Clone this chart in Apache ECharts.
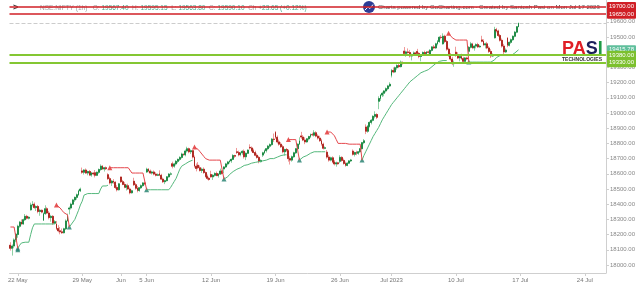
<!DOCTYPE html>
<html><head><meta charset="utf-8">
<script src="https://cdn.jsdelivr.net/npm/echarts@6/dist/echarts.min.js"></script>
<style>html,body{margin:0;padding:0;background:#fff}#c{width:638px;height:288px}</style>
</head><body><div id="c"></div>
<script>
// ---------- DATA ----------
const sessionHours = ['09:15','10:15','11:15','12:15','13:15','14:15','15:15'];
const firstDayHours = ['12:15','13:15','14:15','15:15'];
const tradingDays = ['19 May','22 May','23 May','24 May','25 May','26 May','29 May','30 May','31 May','1 Jun','2 Jun',
  '5 Jun','6 Jun','7 Jun','8 Jun','9 Jun','12 Jun','13 Jun','14 Jun','15 Jun','16 Jun','19 Jun','20 Jun','21 Jun','22 Jun','23 Jun',
  '26 Jun','27 Jun','28 Jun','30 Jun','3 Jul','4 Jul','5 Jul','6 Jul','7 Jul','10 Jul','11 Jul','12 Jul','13 Jul','14 Jul'];
const futureDays = ['17 Jul','18 Jul','19 Jul','20 Jul','21 Jul','24 Jul','25 Jul'];
const xTickLabels = [['22 May','22 May'],['29 May','29 May'],['1 Jun','Jun'],['5 Jun','5 Jun'],['12 Jun','12 Jun'],
  ['19 Jun','19 Jun'],['26 Jun','26 Jun'],['3 Jul','Jul 2023'],['10 Jul','10 Jul'],['17 Jul','17 Jul'],['24 Jul','24 Jul']];
const yTickValues = [18000,18100,18200,18300,18400,18500,18600,18700,18800,18900,19000,19100,19200,19300,19400,19500,19600];

// hourly candles: [open, high, low, close]
const ohlc = [
// 19 May (last hours)
[18130,18150,18095,18110],[18110,18135,18062,18125],[18125,18175,18110,18165],[18165,18210,18150,18203],
// 22 May
[18201,18265,18179,18255],[18255,18290,18245,18282],[18282,18300,18262,18270],[18270,18305,18265,18298],[18298,18335,18290,18320],[18320,18330,18300,18308],[18308,18320,18300,18314],
// 23 May
[18363,18410,18358,18395],[18395,18420,18385,18400],[18400,18412,18370,18378],[18378,18392,18355,18385],[18385,18395,18340,18352],[18352,18370,18324,18360],[18360,18365,18340,18348],
// 24 May
[18294,18345,18290,18338],[18338,18393,18330,18370],[18370,18380,18335,18342],[18342,18355,18300,18312],[18312,18330,18285,18320],[18320,18328,18263,18275],[18275,18295,18268,18285],
// 25 May
[18269,18290,18230,18240],[18240,18262,18215,18225],[18225,18250,18202,18218],[18218,18240,18205,18212],[18212,18245,18208,18238],[18238,18300,18230,18290],[18290,18338,18285,18321],
// 26 May
[18368,18385,18333,18375],[18375,18410,18365,18400],[18400,18435,18395,18428],[18428,18450,18415,18445],[18445,18470,18430,18462],[18462,18495,18455,18488],[18488,18509,18480,18499],
// 29 May
[18619,18641,18600,18610],[18610,18630,18595,18625],[18625,18635,18600,18605],[18605,18620,18590,18615],[18615,18625,18585,18592],[18592,18612,18581,18605],[18605,18610,18590,18599],
// 30 May
[18607,18625,18576,18590],[18590,18615,18585,18610],[18610,18635,18600,18628],[18628,18662,18620,18650],[18650,18658,18625,18632],[18632,18645,18615,18640],[18640,18648,18625,18634],
// 31 May
[18594,18604,18560,18568],[18568,18580,18530,18540],[18540,18560,18520,18552],[18552,18565,18535,18545],[18545,18550,18500,18510],[18510,18525,18484,18495],[18495,18540,18490,18534],
// 1 Jun
[18579,18580,18540,18548],[18548,18560,18525,18530],[18530,18545,18505,18512],[18512,18530,18490,18522],[18522,18535,18495,18500],[18500,18510,18465,18475],[18475,18495,18470,18488],
// 2 Jun
[18551,18574,18520,18528],[18528,18540,18495,18505],[18505,18520,18478,18490],[18490,18512,18482,18508],[18508,18530,18500,18522],[18522,18545,18515,18540],[18540,18548,18525,18534],
// 5 Jun
[18612,18640,18605,18630],[18630,18638,18610,18618],[18618,18628,18600,18605],[18605,18620,18595,18612],[18612,18622,18590,18598],[18598,18610,18583,18590],[18590,18602,18585,18594],
// 6 Jun
[18601,18623,18585,18590],[18590,18600,18560,18565],[18565,18575,18540,18548],[18548,18560,18532,18555],[18555,18585,18550,18580],[18580,18605,18575,18598],[18598,18610,18590,18599],
// 7 Jun
[18666,18680,18636,18650],[18650,18672,18640,18665],[18665,18690,18655,18682],[18682,18700,18670,18695],[18695,18715,18685,18708],[18708,18739,18700,18730],[18730,18735,18718,18726],
// 8 Jun
[18725,18760,18715,18750],[18750,18778,18740,18765],[18765,18772,18735,18745],[18745,18760,18730,18752],[18752,18758,18700,18710],[18710,18720,18640,18650],[18650,18668,18616,18635],
// 9 Jun
[18656,18677,18630,18640],[18640,18655,18615,18622],[18622,18640,18605,18630],[18630,18642,18600,18608],[18608,18615,18575,18582],[18582,18595,18560,18570],[18570,18580,18555,18563],
// 12 Jun
[18595,18620,18575,18580],[18580,18598,18560,18590],[18590,18610,18582,18602],[18602,18615,18585,18588],[18588,18605,18575,18598],[18598,18634,18592,18618],[18618,18625,18595,18602],
// 13 Jun
[18632,18650,18604,18645],[18645,18672,18638,18665],[18665,18685,18655,18678],[18678,18692,18668,18685],[18685,18700,18672,18695],[18695,18729,18690,18720],[18720,18725,18705,18716],
// 14 Jun
[18745,18770,18730,18740],[18740,18752,18715,18725],[18725,18745,18715,18738],[18738,18755,18725,18748],[18748,18760,18700,18712],[18712,18740,18690,18735],[18735,18760,18730,18756],
// 15 Jun
[18774,18794,18760,18770],[18770,18780,18745,18752],[18752,18765,18735,18740],[18740,18752,18715,18722],[18722,18735,18700,18708],[18708,18718,18669,18680],[18680,18695,18675,18688],
// 16 Jun
[18723,18745,18711,18738],[18738,18760,18730,18752],[18752,18770,18740,18765],[18765,18790,18755,18782],[18782,18800,18770,18792],[18792,18835,18785,18828],[18828,18865,18810,18826],
// 19 Jun
[18873,18881,18830,18840],[18840,18852,18800,18810],[18810,18825,18785,18795],[18795,18808,18770,18778],[18778,18790,18735,18745],[18745,18765,18719,18760],[18760,18770,18745,18755],
// 20 Jun
[18752,18760,18680,18700],[18700,18715,18661,18690],[18690,18720,18680,18712],[18712,18745,18705,18738],[18738,18770,18730,18765],[18765,18800,18760,18795],[18795,18840,18790,18817],
// 21 Jun
[18849,18876,18830,18842],[18842,18855,18815,18822],[18822,18840,18795,18810],[18810,18835,18805,18830],[18830,18850,18820,18845],[18845,18865,18835,18858],[18858,18870,18848,18857],
// 22 Jun
[18854,18887,18845,18870],[18870,18880,18840,18848],[18848,18860,18825,18835],[18835,18850,18810,18818],[18818,18830,18785,18795],[18795,18805,18760,18768],[18768,18780,18762,18771],
// 23 Jun
[18742,18756,18700,18710],[18710,18725,18680,18690],[18690,18712,18682,18705],[18705,18715,18670,18678],[18678,18690,18655,18665],[18665,18680,18647,18672],[18672,18678,18660,18666],
// 26 Jun
[18682,18722,18670,18708],[18708,18715,18680,18688],[18688,18700,18660,18668],[18668,18680,18647,18655],[18655,18675,18650,18670],[18670,18690,18665,18685],[18685,18698,18678,18691],
// 27 Jun
[18749,18760,18720,18728],[18728,18745,18714,18740],[18740,18752,18722,18735],[18735,18750,18725,18745],[18745,18770,18738,18765],[18765,18810,18760,18805],[18805,18829,18795,18817],
// 28 Jun
[18908,18925,18861,18880],[18880,18920,18870,18912],[18912,18945,18905,18938],[18938,18960,18925,18952],[18952,18985,18945,18978],[18978,19011,18965,18990],[18990,18998,18960,18972],
// 30 Jun
[19077,19110,19025,19095],[19095,19125,19080,19118],[19118,19140,19105,19130],[19130,19150,19110,19145],[19145,19168,19135,19160],[19160,19185,19150,19178],[19178,19202,19170,19189],
// 3 Jul
[19247,19290,19234,19280],[19280,19300,19262,19270],[19270,19305,19265,19298],[19298,19320,19285,19312],[19312,19330,19295,19305],[19305,19345,19300,19335],[19335,19340,19318,19323],
// 4 Jul
[19407,19434,19380,19392],[19392,19410,19370,19402],[19402,19425,19390,19398],[19398,19415,19365,19375],[19375,19390,19346,19385],[19385,19405,19375,19395],[19395,19402,19380,19389],
// 5 Jul
[19405,19422,19385,19392],[19392,19400,19360,19372],[19372,19388,19340,19380],[19380,19405,19375,19398],[19398,19410,19385,19390],[19390,19408,19382,19402],[19402,19410,19392,19399],
// 6 Jul
[19386,19420,19380,19412],[19412,19440,19405,19435],[19435,19448,19420,19428],[19428,19462,19422,19455],[19455,19480,19445,19470],[19470,19505,19462,19498],[19498,19512,19485,19497],
// 7 Jul
[19455,19524,19450,19505],[19505,19515,19460,19470],[19470,19480,19410,19420],[19420,19430,19370,19380],[19380,19395,19345,19355],[19355,19370,19315,19325],[19325,19345,19304,19332],
// 10 Jul
[19400,19436,19370,19385],[19385,19400,19355,19362],[19362,19380,19340,19372],[19372,19390,19350,19358],[19358,19370,19327,19340],[19340,19368,19335,19362],[19362,19370,19348,19356],
// 11 Jul
[19406,19440,19378,19432],[19432,19468,19425,19455],[19455,19462,19420,19428],[19428,19445,19410,19440],[19440,19458,19425,19450],[19450,19462,19428,19435],[19435,19448,19430,19439],
// 12 Jul
[19481,19508,19465,19472],[19472,19485,19440,19448],[19448,19462,19425,19455],[19455,19468,19420,19428],[19428,19440,19395,19405],[19405,19420,19362,19375],[19375,19392,19368,19384],
// 13 Jul
[19495,19567,19490,19548],[19548,19560,19530,19540],[19540,19548,19500,19510],[19510,19520,19470,19478],[19478,19490,19430,19440],[19440,19455,19386,19402],[19402,19425,19395,19414],
// 14 Jul
[19493,19500,19433,19445],[19445,19470,19438,19465],[19465,19490,19455,19482],[19482,19510,19475,19505],[19505,19540,19498,19532],[19532,19572,19525,19567.4],[19567.4,19595.15,19563.8,19590.1]
];

// SuperTrend values (one per candle)
const stValues = [
18250,18250,18250,18250,
18110,18130,18145,18150,18150,18150,18150,
18200,18245,18270,18270,18270,18270,18270,
18270,18270,18270,18270,18270,18270,18270,
18395,18385,18375,18360,18345,18335,18330,
18250,18260,18283,18300,18330,18360,18395,
18420,18460,18470,18470,18470,18470,18470,
18470,18470,18470,18500,18520,18520,18520,
18525,
18640,18640,18640,18640,18640,18640,18640,18640,18640,18640,18640,18640,
18605,18605,18605,18605,18605,18605,18605,18605,
18495,18495,18495,18495,18495,18495,18495,18495,18495,18495,18495,18495,18495,
18510,18530,18550,18570,18600,18630,18650,18660,
18665,18670,18680,18690,18690,
18776,18770,18760,18745,18730,18715,18700,18690,
18690,18690,18690,18690,18690,18690,18690,18690,
18565,18570,18580,18595,18605,18615,18625,
18630,18635,18640,18650,18655,18660,18660,
18665,18670,18670,18675,18680,18680,18680,
18685,18690,18690,18695,18700,18700,18700,
18705,18710,18715,18720,18725,18725,18725,
18825,18825,18825,18825,18825,18825,
18690,18700,18710,18715,18720,18730,18735,18740,
18745,18745,18745,18745,18745,18745,18745,
18875,18875,18875,18875,18850,18825,18800,18800,18800,18800,18800,18800,
18795,18795,18795,18795,18795,18795,18795,
18690,18720,18745,18770,18795,18820,18845,18865,18885,
18905,18930,18955,18975,18995,19015,19035,
19055,19070,19085,19100,19115,19130,19145,
19160,19175,19190,19205,19215,19225,19235,
19245,19255,19265,19270,19275,19280,19285,
19295,19305,19315,19325,19335,19340,19345,
19345,19345,19345,
19525,19510,19495,19485,
19480,19480,19480,19480,19480,19480,19480,
19335,19335,19335,19335,19335,19335,19335,19335,19335,19335,19335,19335,19335,19335,
19350,19365,19378,19378,19378,19378,19378,19378,19378,19378,19378,19395,19405,19415.78
];
// candle index where trend direction starts
const stFlips = [[0,'down'],[4,'up'],[25,'down'],[32,'up'],[54,'down'],[74,'up'],[100,'down'],[116,'up'],
  [151,'down'],[157,'up'],[172,'down'],[191,'up'],[238,'down'],[249,'up']];

const resistanceLevels = [19700, 19650];
const supportLevels = [19380, 19330];
const lastPrice = 19590.10;
const headerValues = {o:'19567.40', h:'19595.15', l:'19563.80', c:'19590.10', ch:'+23.65 (+0.12%)'};

// ---------- BUILD ----------
const categories = [];
tradingDays.forEach((d,i)=>(i===0?firstDayHours:sessionHours).forEach(h=>categories.push(d+' '+h)));
futureDays.forEach(d=>sessionHours.forEach(h=>categories.push(d+' '+h)));
const cats = categories.slice(0, 324);
const labelMap = {};
xTickLabels.forEach(([d,l])=>{ labelMap[d+' 09:15'] = l; });

const wickData = ohlc.map(r=>[r[0], r[3], r[2], r[1]]);
const bodyData = ohlc.map(r=>[r[0], r[3], Math.min(r[0],r[3]), Math.max(r[0],r[3])]);

const upData = new Array(ohlc.length).fill(null);
const downData = new Array(ohlc.length).fill(null);
const buyPts = [], sellPts = [];
stFlips.forEach(([start, dir], k)=>{
  const end = k+1 < stFlips.length ? stFlips[k+1][0] : stValues.length;
  for (let i=start;i<end;i++) (dir==='up'?upData:downData)[i] = stValues[i];
  if (dir==='down' && end < stValues.length) downData[end] = stValues[end];
  if (k>0) (dir==='up'?buyPts:sellPts).push([start, stValues[start]]);
});
buyPts.unshift([4, 18100]);

const font = 'Liberation Sans, Arial, sans-serif';
const lvlLabel = (bg)=>({show:true, position:'end', distance:1, formatter:p=>Number(p.value).toFixed(2),
  color:'#fff', backgroundColor:bg, fontSize:6, fontFamily:font, padding:[2,2,1,2], borderRadius:1});

const chart = echarts.init(document.getElementById('c'), null, {renderer:'canvas'});
chart.setOption({
  animation:false,
  backgroundColor:'#fff',
  grid:{left:9.5, right:30, top:0, bottom:15},
  xAxis:{type:'category', data:cats, boundaryGap:true,
    axisLine:{lineStyle:{color:'#cfcfcf'}},
    axisTick:{show:true, alignWithLabel:true, length:3, interval:(i,v)=>labelMap[v]!==undefined, lineStyle:{color:'#cfcfcf'}},
    axisLabel:{interval:(i,v)=>labelMap[v]!==undefined, formatter:v=>labelMap[v]||'', color:'#777', fontSize:6, fontFamily:font, margin:4},
    splitLine:{show:false}},
  yAxis:{type:'value', position:'right', min:17947.4, max:19743.4, scale:true,
    axisLine:{show:true, lineStyle:{color:'#cfcfcf'}},
    axisTick:{show:true, length:3, customValues:yTickValues, lineStyle:{color:'#cfcfcf'}},
    axisLabel:{customValues:yTickValues, formatter:v=>v.toFixed(2), color:'#888', fontSize:6, fontFamily:font, margin:4},
    splitLine:{show:false}},
  graphic:[
    {type:'text', left:13, top:3, style:{text:'>', fontSize:9, fontWeight:'bold', fill:'#333', fontFamily:font}},
    {type:'text', left:40, top:5, style:{
      text:`{g|NSE:NIFTY (1h)   O: }{v|${headerValues.o}}{g|  H: }{v|${headerValues.h}}{g|  L: }{v|${headerValues.l}}{g|  C: }{v|${headerValues.c}}{g|  Ch }{v|${headerValues.ch}}`,
      rich:{g:{fill:'#a0a0a0', fontSize:6.5, fontFamily:font}, v:{fill:'#4aa88c', fontSize:6.5, fontFamily:font}}}},
    {type:'circle', shape:{cx:369, cy:7, r:6}, style:{fill:'#2d3d96'}},
    {type:'polyline', shape:{points:[[365,10],[368,7],[370,8.5],[373,4.5]]}, style:{stroke:'#fff', lineWidth:1, fill:null}},
    {type:'text', left:378, top:4.5, style:{text:'Charts powered by GoCharting.com - Created by Santosh Pasi on Mon Jul 17 2023', fill:'#555', fontSize:6, fontFamily:font}},
    {type:'text', left:562, top:40, style:{text:'{r|PA}{n|S}{g|I}', rich:{
      r:{fill:'#e01f26', fontSize:18, fontWeight:'bold', fontFamily:font},
      n:{fill:'#1c1f5a', fontSize:18, fontWeight:'bold', fontFamily:font},
      g:{fill:'#1f9a45', fontSize:18, fontWeight:'bold', fontFamily:font}}}},
    {type:'text', left:562, top:57, style:{text:'TECHNOLOGIES', fill:'#333', fontSize:5, fontWeight:'bold', fontFamily:font}}
  ],
  series:[
    {type:'candlestick', name:'wick', data:wickData, barWidth:'75%', silent:true,
      itemStyle:{color:'#8fd1a5', color0:'#f09a9a', borderColor:'#8fd1a5', borderColor0:'#f09a9a', borderWidth:1},
      markLine:{symbol:'none', silent:true, data:[
        {yAxis:stValues[stValues.length-1], lineStyle:{color:'rgba(0,0,0,0)', width:0}, label:lvlLabel('#5fbf9c')},
        ...resistanceLevels.map(v=>({yAxis:v, lineStyle:{color:'#d01f26', width:1.6, type:'solid'}, label:lvlLabel('#d01f26')})),
        ...supportLevels.map(v=>({yAxis:v, lineStyle:{color:'#84c733', width:2, type:'solid'}, label:lvlLabel('#7cc02e')})),
        {yAxis:lastPrice, lineStyle:{color:'#cccccc', width:1, type:'dashed'}, label:{show:false}}
      ]}},
    {type:'candlestick', name:'body', data:bodyData, barWidth:'75%', silent:true,
      itemStyle:{color:'#17843f', color0:'#a81f18', borderColor:'#17843f', borderColor0:'#a81f18', borderWidth:0.8}},
    {type:'line', name:'stUp', data:upData, showSymbol:false, connectNulls:false, silent:true,
      lineStyle:{color:'#55b87c', width:1}, itemStyle:{color:'#55b87c'}},
    {type:'line', name:'stDown', data:downData, showSymbol:false, connectNulls:false, silent:true,
      lineStyle:{color:'#e5474c', width:1}, itemStyle:{color:'#e5474c'}},
    {type:'scatter', data:buyPts, symbol:'triangle', symbolSize:5, silent:true, itemStyle:{color:'#1e7d6c'}},
    {type:'scatter', data:sellPts, symbol:'triangle', symbolSize:5, silent:true, itemStyle:{color:'#e02b2b'}}
  ]
});
</script></body></html>
